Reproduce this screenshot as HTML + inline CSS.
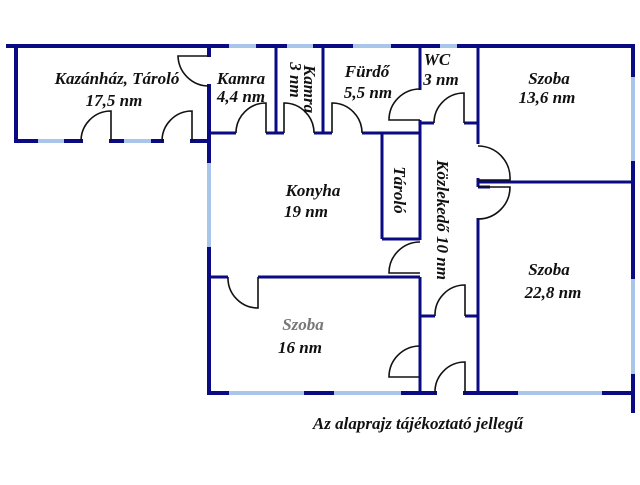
<!DOCTYPE html>
<html><head><meta charset="utf-8"><style>
body{margin:0;background:#fff;width:640px;height:480px;overflow:hidden}
text{font-family:"Liberation Serif",serif;font-style:italic;font-weight:bold;font-size:17px;fill:#111}
</style></head><body>
<svg width="640" height="480" viewBox="0 0 640 480" xmlns="http://www.w3.org/2000/svg">
<g stroke="#0a0a82" stroke-width="4" fill="none" stroke-linecap="square">
<line x1="8" y1="46" x2="633" y2="46"/>
<line x1="16" y1="46" x2="16" y2="141"/>
<line x1="16" y1="141" x2="37" y2="141"/>
<line x1="65" y1="141" x2="81" y2="141"/>
<line x1="111" y1="141" x2="123" y2="141"/>
<line x1="152" y1="141" x2="162" y2="141"/>
<line x1="192" y1="141" x2="209" y2="141"/>
<line x1="209" y1="46" x2="209" y2="55"/>
<line x1="209" y1="86" x2="209" y2="162"/>
<line x1="209" y1="248" x2="209" y2="393"/>
<line x1="633" y1="46" x2="633" y2="76"/>
<line x1="633" y1="162" x2="633" y2="278"/>
<line x1="633" y1="375" x2="633" y2="411"/>
<line x1="209" y1="393" x2="228" y2="393"/>
<line x1="305" y1="393" x2="333" y2="393"/>
<line x1="402" y1="393" x2="435" y2="393"/>
<line x1="465" y1="393" x2="517" y2="393"/>
<line x1="603" y1="393" x2="633" y2="393"/>
</g>
<g stroke="#a9c6ea" stroke-width="4">
<line x1="38" y1="141" x2="64" y2="141"/>
<line x1="124" y1="141" x2="151" y2="141"/>
<line x1="209" y1="163" x2="209" y2="247"/>
<line x1="229" y1="46" x2="256" y2="46"/>
<line x1="287" y1="46" x2="313" y2="46"/>
<line x1="353" y1="46" x2="391" y2="46"/>
<line x1="440" y1="46" x2="457" y2="46"/>
<line x1="633" y1="77" x2="633" y2="161"/>
<line x1="633" y1="279" x2="633" y2="374"/>
<line x1="229" y1="393" x2="304" y2="393"/>
<line x1="334" y1="393" x2="401" y2="393"/>
<line x1="518" y1="393" x2="602" y2="393"/>
</g>
<g stroke="#0a0a82" stroke-width="3" fill="none">
<line x1="276" y1="46" x2="276" y2="133"/>
<line x1="323" y1="46" x2="323" y2="133"/>
<line x1="209" y1="133" x2="236" y2="133"/>
<line x1="266" y1="133" x2="284" y2="133"/>
<line x1="314" y1="133" x2="332" y2="133"/>
<line x1="362" y1="133" x2="420" y2="133"/>
<line x1="420" y1="46" x2="420" y2="90"/>
<line x1="420" y1="120" x2="420" y2="240"/>
<line x1="420" y1="277" x2="420" y2="393"/>
<line x1="420" y1="123" x2="434" y2="123"/>
<line x1="464" y1="123" x2="478" y2="123"/>
<line x1="478" y1="46" x2="478" y2="144"/>
<line x1="478" y1="218" x2="478" y2="393"/>
<line x1="478" y1="182" x2="633" y2="182"/>
<line x1="478" y1="187" x2="490" y2="187"/>
<line x1="478" y1="178" x2="478" y2="187"/>
<line x1="382" y1="133" x2="382" y2="239"/>
<line x1="382" y1="239" x2="420" y2="239"/>
<line x1="209" y1="277" x2="228" y2="277"/>
<line x1="258" y1="277" x2="420" y2="277"/>
<line x1="420" y1="316" x2="435" y2="316"/>
<line x1="465" y1="316" x2="478" y2="316"/>
</g>
<g stroke="#111" stroke-width="1.6" fill="none">
<path d="M111 141 V111 A30 30 0 0 0 81 141"/>
<path d="M192 141 V111 A30 30 0 0 0 162 141"/>
<path d="M209 56 H178 A31 31 0 0 0 209 86"/>
<path d="M266 133 V103 A30 30 0 0 0 236 133"/>
<path d="M284 133 V103 A30 30 0 0 1 314 133"/>
<path d="M332 133 V103 A30 30 0 0 1 362 133"/>
<path d="M420 120 H389 A31 31 0 0 1 420 89"/>
<path d="M464 123 V93 A30 30 0 0 0 434 123"/>
<path d="M478 180 H510 A32 32 0 0 0 478 146"/>
<path d="M478 187 H510 A32 32 0 0 1 478 219"/>
<path d="M420 273 H389 A31 31 0 0 1 420 242"/>
<path d="M420 377 H389 A31 31 0 0 1 420 346"/>
<path d="M465 316 V285 A30 30 0 0 0 435 316"/>
<path d="M465 393 V362 A30 30 0 0 0 435 393"/>
<path d="M258 277 V308 A30 30 0 0 1 228 277"/>
</g>
<text x="117" y="84" text-anchor="middle">Kazánház, Tároló</text>
<text x="114" y="106" text-anchor="middle">17,5 nm</text>
<text x="241" y="84" text-anchor="middle">Kamra</text>
<text x="241" y="102" text-anchor="middle">4,4 nm</text>
<text transform="translate(304,89) rotate(90)" text-anchor="middle">Kamra</text>
<text transform="translate(290,80) rotate(90)" text-anchor="middle">3 nm</text>
<text x="367" y="77" text-anchor="middle">Fürdő</text>
<text x="368" y="98" text-anchor="middle">5,5 nm</text>
<text x="437" y="65" text-anchor="middle">WC</text>
<text x="441" y="85" text-anchor="middle">3 nm</text>
<text x="549" y="84" text-anchor="middle">Szoba</text>
<text x="547" y="103" text-anchor="middle">13,6 nm</text>
<text transform="translate(394,190) rotate(90)" text-anchor="middle">Tároló</text>
<text transform="translate(437,220) rotate(90)" text-anchor="middle">Közlekedő 10 nm</text>
<text x="313" y="196" text-anchor="middle">Konyha</text>
<text x="306" y="217" text-anchor="middle">19 nm</text>
<text x="303" y="330" text-anchor="middle" style="fill:#777">Szoba</text>
<text x="300" y="353" text-anchor="middle">16 nm</text>
<text x="549" y="275" text-anchor="middle">Szoba</text>
<text x="553" y="298" text-anchor="middle">22,8 nm</text>
<text x="418" y="429" text-anchor="middle">Az alaprajz tájékoztató jellegű</text>
</svg>
</body></html>
